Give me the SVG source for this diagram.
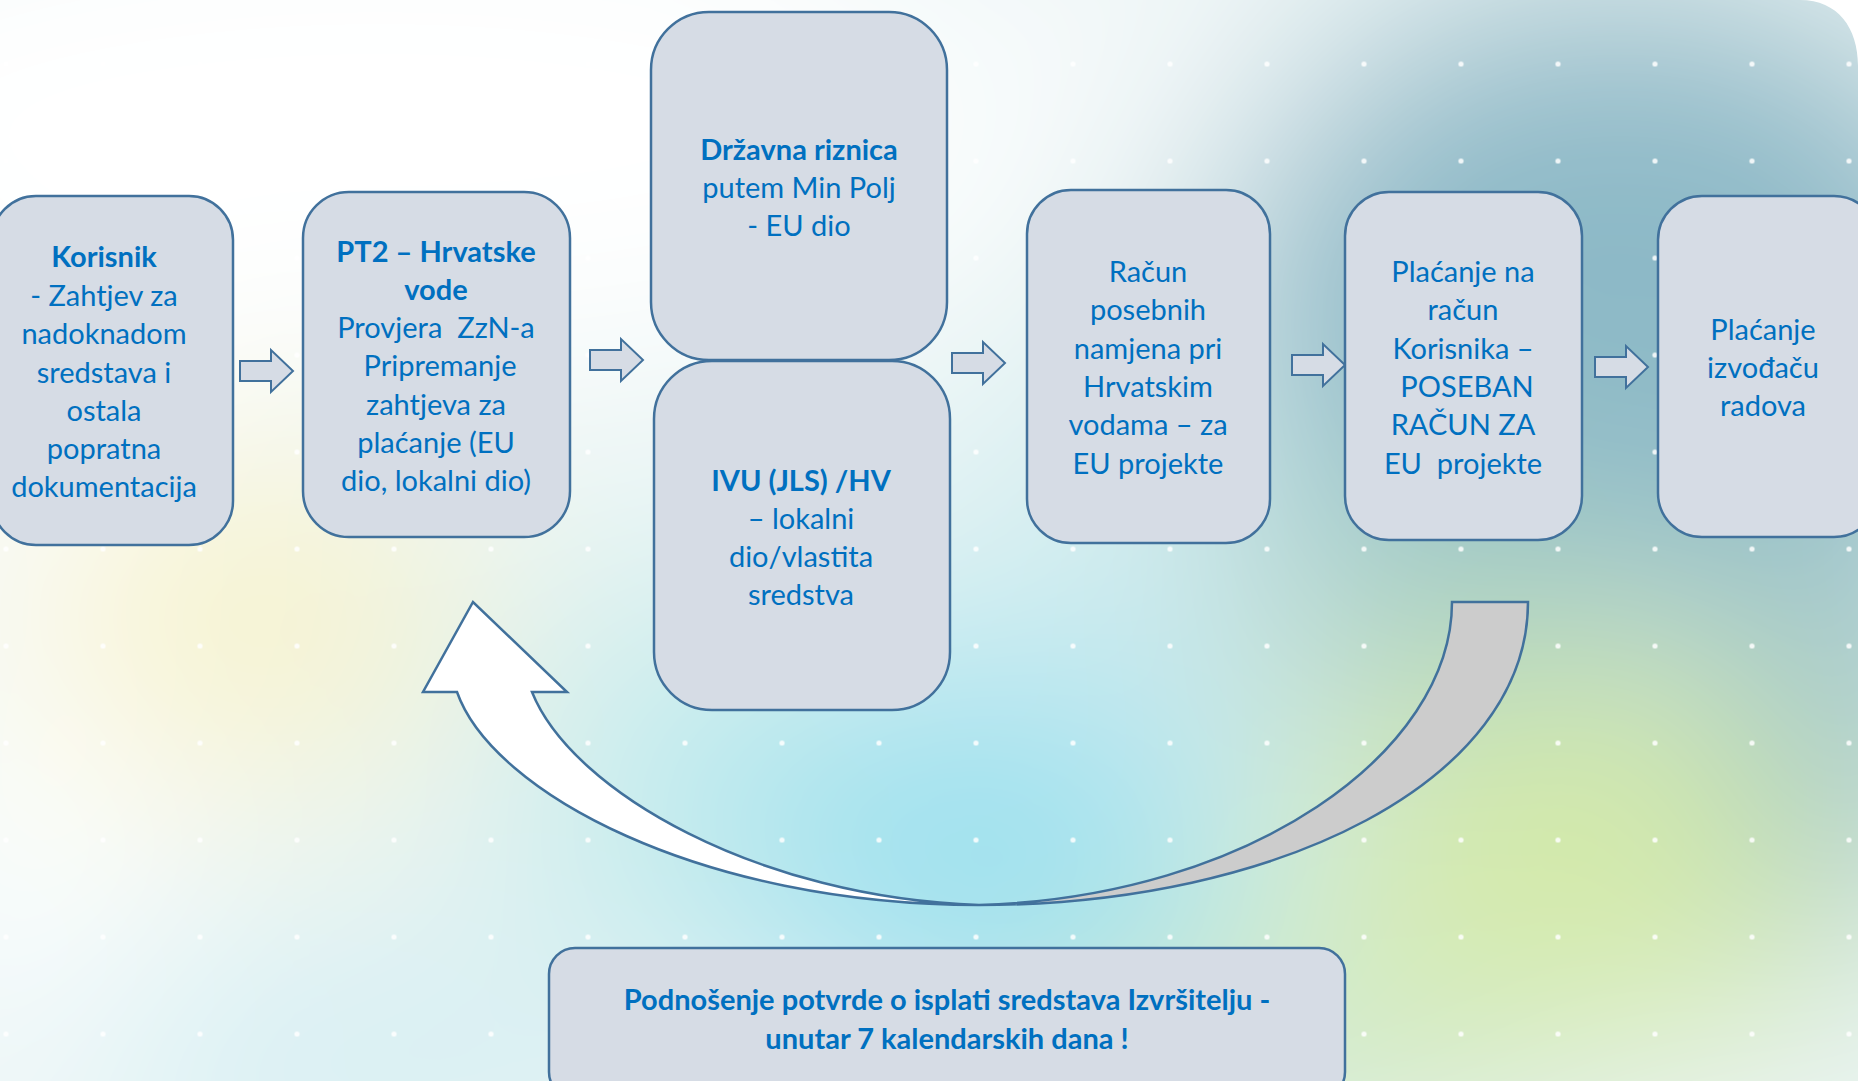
<svg xmlns="http://www.w3.org/2000/svg" width="1858" height="1081" viewBox="0 0 1858 1081">
<defs>
<filter id="blur" x="-0.3" y="-0.3" width="1.6" height="1.6" filterUnits="objectBoundingBox">
<feGaussianBlur stdDeviation="110"/>
</filter>
<pattern id="dots" x="-42.5" y="15.5" width="97" height="97" patternUnits="userSpaceOnUse">
<circle cx="48.5" cy="48.5" r="2.6" fill="#ffffff" fill-opacity="0.85"/>
</pattern>
<path id="blk" d="M0,11 H31 V0 L53,21 L31,42 V31 H0 Z"/>
<style>
.box{fill:#d6dce5;stroke:#41719c;stroke-width:2.5}
.arr{fill:#d6dce5;stroke:#41719c;stroke-width:2}
.t{font-family:Lato,"Open Sans","DejaVu Sans",sans-serif;font-size:29px;fill:#0070c0;text-anchor:middle}
.b{font-weight:bold}
.cv{stroke:#41719c;stroke-width:2.5;stroke-linejoin:miter}
</style>
</defs>
<g id="bg">
<rect x="0" y="0" width="1858" height="1081" fill="#ebf5f5"/>
<g filter="url(#blur)">
<rect x="-300" y="-300" width="2500" height="1700" fill="#ebf5f5"/>
<ellipse cx="380" cy="120" rx="700" ry="260" fill="#ffffff"/>
<ellipse cx="60" cy="700" rx="140" ry="500" fill="#ffffff"/>
<ellipse cx="1100" cy="50" rx="240" ry="110" fill="#f6fafb"/>
<ellipse cx="250" cy="620" rx="230" ry="170" fill="#f7f3cf"/>
<ellipse cx="350" cy="1060" rx="320" ry="120" fill="#d6eff3"/>
<ellipse cx="720" cy="780" rx="220" ry="200" fill="#c6ecec"/>
<ellipse cx="990" cy="860" rx="260" ry="210" fill="#9ee1ef"/>
<ellipse cx="1110" cy="520" rx="160" ry="120" fill="#cdecef"/>
<ellipse cx="1620" cy="300" rx="400" ry="320" fill="#8db9c7"/>
<ellipse cx="1430" cy="610" rx="200" ry="140" fill="#a9d0c8"/>
<ellipse cx="1600" cy="860" rx="300" ry="200" fill="#d4eaa8"/>
<ellipse cx="1870" cy="660" rx="110" ry="280" fill="#98c2c6"/>
<ellipse cx="1300" cy="1060" rx="260" ry="90" fill="#cfe8bf"/>
</g>
<rect x="0" y="0" width="1858" height="1081" fill="url(#dots)"/>
<path d="M1800,0 C1838,0 1858,28 1858,66 V0 Z" fill="#ffffff"/>
</g>
<g id="connectors">
<use href="#blk" class="arr" x="240" y="350"/>
<use href="#blk" class="arr" x="590" y="339"/>
<use href="#blk" class="arr" x="952" y="342"/>
<use href="#blk" class="arr" x="1292" y="344"/>
<use href="#blk" class="arr" x="1595" y="346"/>
<path class="cv" fill="#cccccc" d="M1452,602 L1528,602 C1528,780 1280,905 979,905 C1250,897 1452,752 1452,602 Z"/>
<path class="cv" fill="#ffffff" d="M979,905 C700,905 492,792 457,692 L423,692 L473,602 L567,692 L532,692 C572,792 760,898 979,905 Z"/>
</g>
<g id="node-korisnik">
<rect class="box" x="-8" y="196" width="241" height="349" rx="44"/>
<text class="t"><tspan class="b" x="104" y="267">Korisnik</tspan><tspan x="104" y="306">- Zahtjev za</tspan><tspan x="104" y="344">nadoknadom</tspan><tspan x="104" y="383">sredstava i</tspan><tspan x="104" y="421">ostala</tspan><tspan x="104" y="459">popratna</tspan><tspan x="104" y="497">dokumentacija</tspan></text>
</g>
<g id="node-pt2">
<rect class="box" x="303" y="192" width="267" height="345" rx="46"/>
<text class="t" xml:space="preserve"><tspan class="b" x="436" y="262">PT2 – Hrvatske</tspan><tspan class="b" x="436" y="300">vode</tspan><tspan x="436" y="338">Provjera  ZzN-a</tspan><tspan x="440" y="376">Pripremanje</tspan><tspan x="436" y="415">zahtjeva za</tspan><tspan x="436" y="453">plaćanje (EU</tspan><tspan x="436" y="491">dio, lokalni dio)</tspan></text>
</g>
<g id="node-drzavna">
<rect class="box" x="651" y="12" width="296" height="348" rx="58"/>
<text class="t"><tspan class="b" x="799" y="160">Državna riznica</tspan><tspan x="799" y="198">putem Min Polj</tspan><tspan x="799" y="236">- EU dio</tspan></text>
</g>
<g id="node-ivu">
<rect class="box" x="654" y="361" width="296" height="349" rx="58"/>
<text class="t"><tspan class="b" x="801" y="491">IVU (JLS) /HV</tspan><tspan x="801" y="529">– lokalni</tspan><tspan x="801" y="567">dio/vlastita</tspan><tspan x="801" y="605">sredstva</tspan></text>
</g>
<g id="node-racun">
<rect class="box" x="1027" y="190" width="243" height="353" rx="44"/>
<text class="t"><tspan x="1148" y="282">Račun</tspan><tspan x="1148" y="320">posebnih</tspan><tspan x="1148" y="359">namjena pri</tspan><tspan x="1148" y="397">Hrvatskim</tspan><tspan x="1148" y="435">vodama – za</tspan><tspan x="1148" y="474">EU projekte</tspan></text>
</g>
<g id="node-placanje-korisnik">
<rect class="box" x="1345" y="192" width="237" height="348" rx="44"/>
<text class="t" xml:space="preserve"><tspan x="1463" y="282">Plaćanje na</tspan><tspan x="1463" y="320">račun</tspan><tspan x="1463" y="359">Korisnika –</tspan><tspan x="1467" y="397">POSEBAN</tspan><tspan x="1463" y="435">RAČUN ZA</tspan><tspan x="1463" y="474">EU  projekte</tspan></text>
</g>
<g id="node-placanje-izvodacu">
<rect class="box" x="1658" y="196" width="220" height="341" rx="44"/>
<text class="t"><tspan x="1763" y="340">Plaćanje</tspan><tspan x="1763" y="378">izvođaču</tspan><tspan x="1763" y="416">radova</tspan></text>
</g>
<g id="node-podnosenje">
<rect class="box" x="549" y="948" width="796" height="150" rx="26"/>
<text class="t b"><tspan x="947" y="1010">Podnošenje potvrde o isplati sredstava Izvršitelju -</tspan><tspan x="947" y="1049">unutar 7 kalendarskih dana !</tspan></text>
</g>
</svg>
